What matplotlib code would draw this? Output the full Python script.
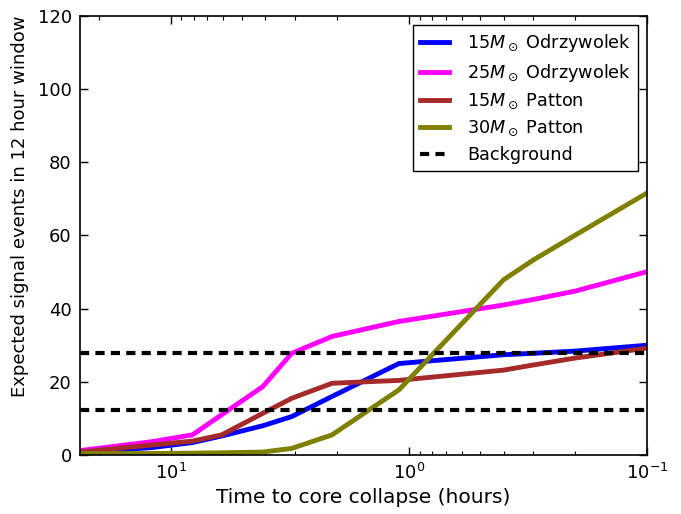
import matplotlib
matplotlib.use("Agg")
import matplotlib.pyplot as plt
from matplotlib.ticker import LogLocator, MultipleLocator

# Time to core collapse (hours), as plotted
times = [24.0, 12.1, 8.1, 6.1, 4.1, 3.1, 2.1, 1.1, 0.4, 0.3, 0.2, 0.1]

odr15 = [0.8, 2.0, 3.4, 5.2, 8.0, 10.5, 16.0, 25.0, 27.4, 27.8, 28.4, 30.0]
odr25 = [1.2, 3.6, 5.5, 11.0, 18.7, 27.8, 32.4, 36.5, 41.0, 42.5, 44.8, 50.1]
pat15 = [0.8, 2.7, 3.8, 5.5, 11.4, 15.5, 19.6, 20.4, 23.2, 24.6, 26.5, 29.2]
pat30 = [0.4, 0.4, 0.5, 0.6, 0.8, 1.8, 5.5, 17.8, 47.9, 53.3, 60.1, 71.6]

background = [27.9, 12.2]

labels = [r"15$M_\odot$ Odrzywolek", r"25$M_\odot$ Odrzywolek",
          r"15$M_\odot$ Patton", r"30$M_\odot$ Patton", "Background"]
colors = ["#0000ff", "#ff00ff", "#a52a2a", "#808000", "black"]

plt.rcParams["font.family"] = ["DejaVu Sans"]
plt.rcParams["mathtext.fontset"] = "dejavusans"

fig = plt.figure(figsize=(6.81, 5.14), dpi=100)
ax = fig.add_axes([0.1175, 0.1148, 0.8325, 0.8541])

lw = 3.5
series = [odr15, odr25, pat15, pat30]
for s, c, lab in zip(series, colors[:4], labels[:4]):
    ax.plot(times, s, color=c, lw=lw, label=lab, solid_joinstyle="miter")

for i, b in enumerate(background):
    ax.axhline(b, color="black", lw=3, dashes=(2.2, 1.5),
               label=labels[4] if i == 0 else None)

ax.set_xscale("log")
ax.set_xlim(24, 0.1)
ax.set_ylim(0, 120)
ax.yaxis.set_major_locator(MultipleLocator(20))
ax.xaxis.set_major_locator(LogLocator(base=10, numticks=10))
ax.xaxis.set_minor_locator(LogLocator(base=10, subs=range(2, 10), numticks=20))

ax.tick_params(which="both", direction="in", top=True, right=True,
               labelsize=13, pad=6)
ax.tick_params(which="major", length=5.5, width=1)
ax.tick_params(which="minor", length=2.8, width=0.8)
for sp in ax.spines.values():
    sp.set_linewidth(1.2)

ax.set_xlabel("Time to core collapse (hours)", fontsize=14.5, labelpad=3)
ax.set_ylabel("Expected signal events in 12 hour window", fontsize=13, labelpad=6)
ax.yaxis.label.set_y(0.566)

leg = ax.legend(loc="upper right", fontsize=12.7, frameon=True, fancybox=False,
                framealpha=1, edgecolor="black", handlelength=1.65,
                handletextpad=1.0, labelspacing=0.45, borderpad=0.4,
                borderaxespad=0.5)
leg.get_frame().set_linewidth(1.0)

fig.savefig("out.png", dpi=100, facecolor="white")
